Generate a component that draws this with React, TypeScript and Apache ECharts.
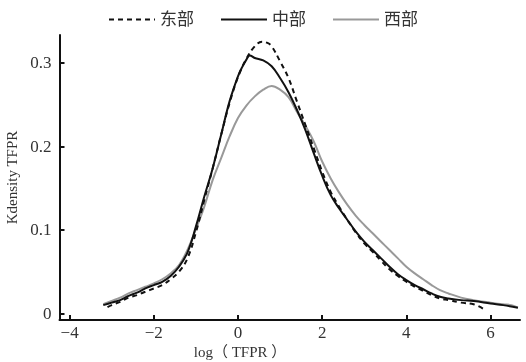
import React, { useEffect, useRef } from "react";
import * as echarts from "echarts";

const seriesNames = ["东部", "中部", "西部"];

const eastX = [-3.1, -3.0, -2.8, -2.6, -2.4, -2.2, -2.0, -1.8, -1.6, -1.4, -1.2, -1.0, -0.8, -0.6, -0.4, -0.2, 0.0, 0.2, 0.4, 0.57, 0.7, 0.8, 1.0, 1.2, 1.4, 1.6, 1.8, 2.0, 2.2, 2.4, 2.6, 2.8, 3.0, 3.2, 3.4, 3.6, 3.8, 4.0, 4.2, 4.4, 4.6, 4.8, 5.0, 5.3, 5.6, 5.85];
const eastY = [0.0075, 0.01, 0.014, 0.019, 0.022, 0.026, 0.03, 0.034, 0.041, 0.05, 0.066, 0.097, 0.136, 0.174, 0.214, 0.252, 0.283, 0.305, 0.32, 0.3255, 0.324, 0.32, 0.302, 0.282, 0.254, 0.226, 0.198, 0.17, 0.146, 0.128, 0.112, 0.097, 0.084, 0.074, 0.063, 0.053, 0.045, 0.038, 0.032, 0.027, 0.022, 0.018, 0.016, 0.013, 0.011, 0.005];

const centralX = [-3.2, -3.0, -2.8, -2.6, -2.4, -2.2, -2.0, -1.8, -1.6, -1.4, -1.2, -1.0, -0.8, -0.6, -0.4, -0.2, 0.0, 0.1, 0.2, 0.28, 0.4, 0.6, 0.8, 1.0, 1.2, 1.4, 1.6, 1.8, 2.0, 2.2, 2.4, 2.6, 2.8, 3.0, 3.2, 3.4, 3.6, 3.8, 4.0, 4.2, 4.4, 4.6, 4.8, 5.0, 5.3, 5.6, 6.0, 6.3, 6.65];
const centralY = [0.01, 0.013, 0.016, 0.021, 0.025, 0.03, 0.034, 0.038, 0.045, 0.056, 0.073, 0.104, 0.14, 0.174, 0.214, 0.254, 0.284, 0.295, 0.304, 0.309, 0.306, 0.303, 0.296, 0.282, 0.265, 0.244, 0.22, 0.192, 0.165, 0.142, 0.126, 0.112, 0.098, 0.086, 0.076, 0.066, 0.056, 0.047, 0.04, 0.034, 0.029, 0.024, 0.02, 0.018, 0.016, 0.015, 0.012, 0.01, 0.007];

const westX = [-3.2, -3.0, -2.8, -2.6, -2.4, -2.2, -2.0, -1.8, -1.6, -1.4, -1.2, -1.0, -0.8, -0.6, -0.4, -0.2, 0.0, 0.2, 0.4, 0.6, 0.8, 1.0, 1.2, 1.4, 1.6, 1.8, 2.0, 2.2, 2.4, 2.6, 2.8, 3.0, 3.2, 3.4, 3.6, 3.8, 4.0, 4.2, 4.4, 4.6, 4.8, 5.0, 5.3, 5.6, 6.0, 6.3, 6.5, 6.65];
const westY = [0.011, 0.015, 0.019, 0.024, 0.028, 0.032, 0.036, 0.041, 0.048, 0.058, 0.076, 0.101, 0.128, 0.16, 0.186, 0.212, 0.234, 0.249, 0.26, 0.268, 0.2725, 0.268, 0.259, 0.2417, 0.225, 0.206, 0.182, 0.162, 0.145, 0.13, 0.117, 0.106, 0.096, 0.086, 0.076, 0.066, 0.056, 0.048, 0.041, 0.034, 0.028, 0.024, 0.019, 0.016, 0.013, 0.011, 0.01, 0.007];

const xTicks = [-4, -2, 0, 2, 4, 6];
const yTicks = [0, 0.1, 0.2, 0.3];

const zip = (xs: number[], ys: number[]) => xs.map((x, i) => [x, ys[i]]);

const FONT = "Liberation Serif, Noto Sans CJK SC, serif";

export default function App() {
  const ref = useRef<HTMLDivElement>(null);
  useEffect(() => {
    if (!ref.current) return;
    const chart = echarts.init(ref.current, undefined, { renderer: "svg" });
    chart.setOption({
      animation: false,
      textStyle: { fontFamily: FONT },
      legend: {
        top: 6,
        left: "center",
        itemWidth: 46,
        itemHeight: 14,
        itemGap: 26,
        itemStyle: { opacity: 0 },
        textStyle: { fontFamily: FONT, fontSize: 17, color: "#333" },
        data: seriesNames,
      },
      grid: { left: 59.5, right: 6, top: 35, bottom: 42, outerBoundsMode: "none", containLabel: false },
      xAxis: {
        type: "value",
        min: -4.24,
        max: 6.7,
        axisLine: { show: true, onZero: false, lineStyle: { color: "#111", width: 2 } },
        axisTick: { show: true, inside: true, length: 5, lineStyle: { color: "#111", width: 2 }, customValues: xTicks },
        axisLabel: {
          customValues: xTicks,
          fontFamily: FONT,
          fontSize: 17,
          color: "#333",
          margin: 4,
          formatter: (v: number) => (v < 0 ? "\u2212" + Math.abs(v) : String(v)),
        },
        splitLine: { show: false },
      },
      yAxis: {
        type: "value",
        min: -0.0078,
        max: 0.3335,
        name: "Kdensity TFPR",
        nameLocation: "middle",
        nameGap: 33,
        nameTextStyle: { fontFamily: FONT, fontSize: 15, color: "#333" },
        axisLine: { show: true, onZero: false, lineStyle: { color: "#111", width: 2 } },
        axisTick: { show: true, inside: true, length: 5, lineStyle: { color: "#111", width: 2 }, customValues: yTicks },
        axisLabel: {
          customValues: yTicks,
          fontFamily: FONT,
          fontSize: 17,
          color: "#333",
          margin: 8,
          formatter: (v: number) => (v === 0 ? "0" : v.toFixed(1)),
        },
        splitLine: { show: false },
      },
      graphic: [
        {
          type: "text",
          x: 240,
          y: 352,
          style: {
            text: "log（ TFPR ）",
            font: `15px ${FONT}`,
            fill: "#333",
            textAlign: "center",
            textVerticalAlign: "middle",
          },
        },
      ],
      series: [
        {
          name: seriesNames[0],
          type: "line",
          data: zip(eastX, eastY),
          smooth: 0.4,
          symbol: "none",
          lineStyle: { color: "#111", width: 2, type: [5, 4] },
          itemStyle: { color: "#111" },
          z: 3,
        },
        {
          name: seriesNames[1],
          type: "line",
          data: zip(centralX, centralY),
          smooth: 0.4,
          symbol: "none",
          lineStyle: { color: "#111", width: 2 },
          itemStyle: { color: "#111" },
          z: 2,
        },
        {
          name: seriesNames[2],
          type: "line",
          data: zip(westX, westY),
          smooth: 0.4,
          symbol: "none",
          lineStyle: { color: "#999", width: 2 },
          itemStyle: { color: "#999" },
          z: 1,
        },
      ],
    });
    return () => chart.dispose();
  }, []);
  return <div ref={ref} style={{ position: "fixed", left: 0, top: 0, width: 526, height: 362 }} />;
}
